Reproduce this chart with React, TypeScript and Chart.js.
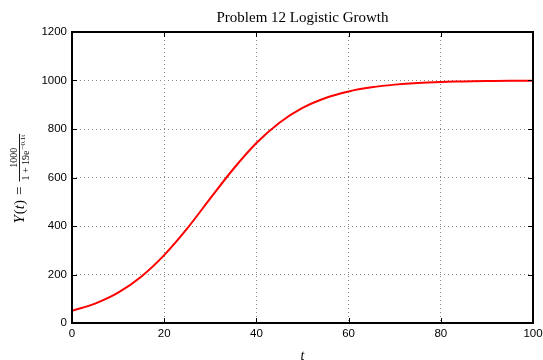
import React, { useEffect, useRef } from "react";
import { Chart, registerables } from "chart.js";

Chart.register(...registerables);

const tValues = [0, 5, 10, 15, 20, 25, 30, 35, 40, 45, 50, 55, 60, 65, 70, 75, 80, 85, 90, 95, 100];
const yValues = [50, 80, 125, 191, 280, 390, 514, 635, 742, 826, 887, 928, 955, 972, 983, 990, 994, 996, 998, 999, 999];
const titleText = "Problem 12 Logistic Growth";
const xLabel = "t";
const xTicks = [0, 20, 40, 60, 80, 100];
const yTicks = [0, 200, 400, 600, 800, 1000, 1200];

const framePlugin = {
  id: "frame",
  afterDraw(chart: any) {
    const { ctx, chartArea: a, scales } = chart;
    const xs = scales.x;
    const ys = scales.y;
    ctx.save();
    ctx.strokeStyle = "#000";
    ctx.lineWidth = 1;
    const tl = 5;
    xTicks.forEach((v) => {
      const px = Math.round(xs.getPixelForValue(v)) + 0.5;
      ctx.beginPath();
      ctx.moveTo(px, a.bottom);
      ctx.lineTo(px, a.bottom - tl);
      ctx.moveTo(px, a.top);
      ctx.lineTo(px, a.top + tl);
      ctx.stroke();
    });
    yTicks.forEach((v) => {
      const py = Math.round(ys.getPixelForValue(v)) + 0.5;
      ctx.beginPath();
      ctx.moveTo(a.left, py);
      ctx.lineTo(a.left + tl, py);
      ctx.moveTo(a.right, py);
      ctx.lineTo(a.right - tl, py);
      ctx.stroke();
    });
    ctx.lineWidth = 2;
    ctx.strokeRect(a.left, a.top, a.right - a.left, a.bottom - a.top);

    ctx.fillStyle = "#000";
    ctx.font = "15px 'Liberation Serif', 'DejaVu Serif', serif";
    ctx.textAlign = "center";
    ctx.textBaseline = "alphabetic";
    ctx.fillText(titleText, (a.left + a.right) / 2, 22);

    ctx.font = "italic 14px 'Liberation Serif', serif";
    ctx.fillText(xLabel, (a.left + a.right) / 2, 360);

    ctx.translate(20, (a.top + a.bottom) / 2);
    ctx.rotate(-Math.PI / 2);
    ctx.textBaseline = "middle";
    ctx.textAlign = "left";
    const startX = -46;
    ctx.font = "italic 15px 'Liberation Serif', serif";
    const p1 = "Y";
    ctx.fillText(p1, startX, 0);
    let cx = startX + ctx.measureText(p1).width + 1;
    ctx.font = "15px 'Liberation Serif', serif";
    ctx.fillText("(", cx, 0);
    cx += ctx.measureText("(").width;
    ctx.font = "italic 15px 'Liberation Serif', serif";
    ctx.fillText("t", cx, 0);
    cx += ctx.measureText("t").width;
    ctx.font = "15px 'Liberation Serif', serif";
    ctx.fillText(")", cx, 0);
    cx += ctx.measureText(")").width + 5;
    ctx.fillText("=", cx, 0);
    cx += ctx.measureText("=").width + 5;
    ctx.font = "10px 'Liberation Serif', serif";
    const num = "1000";
    const den = "1 + 19e";
    const sup = "−0.1t";
    const denW = ctx.measureText(den).width;
    ctx.font = "7px 'Liberation Serif', serif";
    const supW = ctx.measureText(sup).width;
    const fracW = denW + supW + 3;
    ctx.font = "10px 'Liberation Serif', serif";
    ctx.textAlign = "center";
    ctx.fillText(num, cx + fracW / 2, -6);
    ctx.lineWidth = 0.9;
    ctx.beginPath();
    ctx.moveTo(cx, -0.5);
    ctx.lineTo(cx + fracW, -0.5);
    ctx.stroke();
    ctx.textAlign = "left";
    ctx.fillText(den, cx + 1, 6);
    ctx.font = "7px 'Liberation Serif', serif";
    ctx.fillText(sup, cx + 2 + denW, 3);
    ctx.restore();
  },
};

export default function App() {
  const ref = useRef<HTMLCanvasElement>(null);
  useEffect(() => {
    if (!ref.current) return;
    const chart = new Chart(ref.current, {
      type: "line",
      data: {
        datasets: [
          {
            data: tValues.map((t, i) => ({ x: t, y: yValues[i] })),
            borderColor: "#ff0000",
            borderWidth: 2,
            pointRadius: 0,
            cubicInterpolationMode: "monotone",
            fill: false,
          },
        ],
      },
      options: {
        responsive: false,
        animation: false,
        layout: { padding: { left: 0, right: 10, top: 32, bottom: 0 } },
        plugins: { legend: { display: false }, tooltip: { enabled: false }, title: { display: false } },
        scales: {
          x: {
            type: "linear",
            min: 0,
            max: 100,
            afterFit(s: any) { s.height = 37; s.paddingLeft = 0; s.paddingRight = 0; },
            afterBuildTicks(s: any) { s.ticks = xTicks.map((v) => ({ value: v })); },
            grid: {
              drawTicks: false,
              color: (c: any) => (c.tick && (c.tick.value === 0 || c.tick.value === 100) ? "rgba(0,0,0,0)" : "#888"),
              lineWidth: 1,
            },
            border: { display: false, dash: [1, 3] },
            ticks: {
              color: "#000",
              font: { family: "'Liberation Sans', Arial, sans-serif", size: 11.5 },
              padding: 4,
              maxRotation: 0,
              callback: (v: any) => String(v),
            },
          },
          y: {
            type: "linear",
            min: 0,
            max: 1200,
            afterFit(s: any) { s.width = 72; s.paddingTop = 0; s.paddingBottom = 0; },
            afterBuildTicks(s: any) { s.ticks = yTicks.map((v) => ({ value: v })); },
            grid: {
              drawTicks: false,
              color: (c: any) => (c.tick && (c.tick.value === 0 || c.tick.value === 1200) ? "rgba(0,0,0,0)" : "#888"),
              lineWidth: 1,
            },
            border: { display: false, dash: [1, 3] },
            ticks: {
              color: "#000",
              font: { family: "'Liberation Sans', Arial, sans-serif", size: 11.5 },
              padding: 5,
              callback: (v: any) => String(v),
            },
          },
        },
      },
      plugins: [framePlugin],
    } as any);
    return () => chart.destroy();
  }, []);
  return (
    <div style={{ position: "absolute", left: 0, top: 0, width: 543, height: 360, background: "#fff" }}>
      <canvas ref={ref} width={543} height={360} style={{ display: "block" }} />
    </div>
  );
}
